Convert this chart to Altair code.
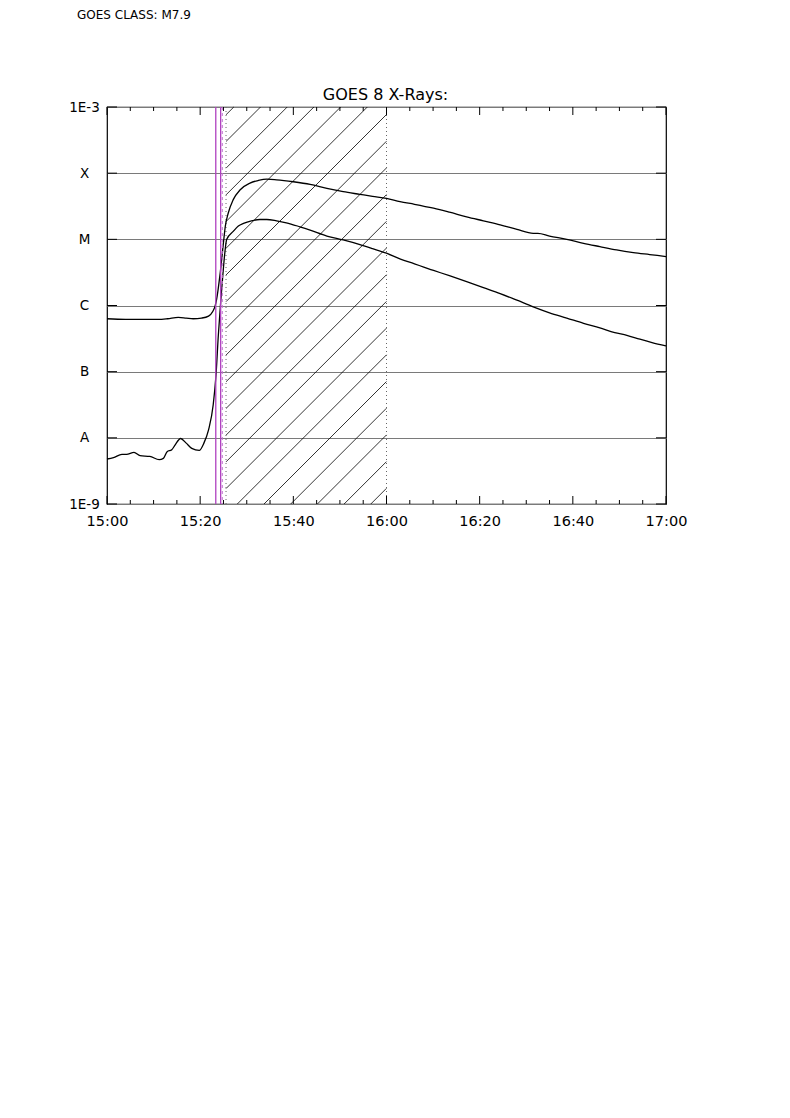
import altair as alt
import pandas as pd
import numpy as np

# ---------------- data (minutes after 15:00, log10 flux W/m^2) ----------------
long_t = [0, 4, 8, 11, 13, 15.3, 17, 18.5, 20.3, 21.8, 22.7, 23.2, 23.5, 24.3, 25.0, 25.4,
          26.0, 27.1, 28.6, 30.7, 32.5, 34.3, 36.4, 40, 43.6, 47.2, 50.7, 54.3, 57, 60,
          62.9, 66, 70.1, 73.5, 77.2, 80.8, 84.4, 88, 91.5, 92.5, 95, 98.7, 102.3, 105.8,
          109.4, 113, 116.5, 120]
long_log = [-6.20, -6.21, -6.21, -6.21, -6.20, -6.18, -6.19, -6.20, -6.19, -6.16, -6.09, -6.01,
            -5.92, -5.51, -5.05, -4.80, -4.61, -4.40, -4.25, -4.15, -4.11, -4.09, -4.10, -4.13,
            -4.17, -4.23, -4.28, -4.32, -4.35, -4.38, -4.43, -4.47, -4.53, -4.59, -4.66, -4.72,
            -4.78, -4.85, -4.91, -4.91, -4.95, -5.00, -5.06, -5.11, -5.16, -5.20, -5.23, -5.26]

short_t = [0, 1.4, 3.2, 4.2, 5.8, 7.1, 9.2, 11.2, 12.1, 12.9, 13.9, 14.6, 15.8, 17, 18.2,
           19.8, 20.8, 21.8, 22.8, 23.4, 23.9, 24.4, 24.8, 25.3, 25.7, 27.1, 28.2, 29.3, 31,
           32.8, 34.3, 36.4, 38.5, 41.4, 43.6, 47.2, 50.7, 54.3, 57, 60, 63, 66, 68, 70.1,
           73.5, 77.2, 80.8, 84.4, 88, 91.5, 95, 98.7, 102.3, 105.8, 109, 111.6, 114.4, 117, 120]
short_log = [-8.32, -8.30, -8.25, -8.25, -8.22, -8.27, -8.28, -8.33, -8.31, -8.21, -8.18, -8.11,
             -8.01, -8.08, -8.16, -8.19, -8.08, -7.88, -7.50, -7.05, -6.45, -5.95, -5.60, -5.20,
             -5.00, -4.88, -4.80, -4.76, -4.72, -4.70, -4.70, -4.72, -4.75, -4.81, -4.86, -4.95,
             -5.01, -5.08, -5.14, -5.21, -5.30, -5.37, -5.42, -5.47, -5.55, -5.64, -5.73, -5.82,
             -5.92, -6.02, -6.11, -6.19, -6.27, -6.34, -6.41, -6.45, -6.51, -6.56, -6.61]

x_tick_values = [0, 20, 40, 60, 80, 100, 120]
x_tick_labels = ["15:00", "15:20", "15:40", "16:00", "16:20", "16:40", "17:00"]
y_tick_exps = [-9, -8, -7, -6, -5, -4, -3]
y_tick_labels = ["1E-9", "A", "B", "C", "M", "X", "1E-3"]

magenta_lines = [23.35, 24.4]
dashed_line = [24.75]
hatch_start, hatch_end = 25.55, 60.0

title_text = "GOES 8 X-Rays:"
class_text = "GOES CLASS: M7.9"

# ---------------- layout ----------------
W, H = 559, 397
XMIN, XMAX = 0, 120
YMIN, YMAX = 1e-9, 1e-3
FONT = "DejaVu Sans"

xs = alt.Scale(domain=[XMIN, XMAX], nice=False, zero=False)
ys = alt.Scale(type="log", domain=[YMIN, YMAX], nice=False)

curves = pd.concat([
    pd.DataFrame({"t": long_t, "flux": [10 ** v for v in long_log], "ch": "long"}),
    pd.DataFrame({"t": short_t, "flux": [10 ** v for v in short_log], "ch": "short"}),
])

label_expr_x = str(x_tick_labels) + "[round(datum.value/20)]"
label_expr_y = str(y_tick_labels) + "[round(log(datum.value)/LN10)+9]"

base = alt.Chart(curves)

lines = base.mark_line(color="black", strokeWidth=1.3, interpolate="monotone").encode(
    x=alt.X("t:Q", scale=xs, axis=alt.Axis(values=x_tick_values, labelExpr=label_expr_x,
                                           title=None, grid=False, ticks=False, domain=False,
                                           labelFont=FONT, labelFontSize=14.5, labelPadding=10,
                                           labelFlush=False, labelOverlap=False,
                                           labelColor="black")),
    y=alt.Y("flux:Q", scale=ys, axis=alt.Axis(values=[10.0 ** e for e in y_tick_exps],
                                              labelExpr=label_expr_y, title=None, grid=True,
                                              gridColor="#7a7a7a", gridWidth=1, ticks=False,
                                              domain=False, labelFont=FONT, labelFontSize=13.5,
                                              labelAlign="center", labelPadding=23,
                                              labelFlush=False, labelOverlap=False,
                                              labelColor="black", labelBaseline="middle")),
    detail="ch:N",
)

# hatch pattern segments for the shaded interval (45 degrees in screen space)
px_min = W / (XMAX - XMIN)
px_dec = H / 6.0
u0, u1 = (hatch_start - XMIN) * px_min, (hatch_end - XMIN) * px_min
spacing, k0 = 26.7, 23.5
rows = []
n_lo = int(np.floor((u0 - H - k0) / spacing)) - 1
n_hi = int(np.ceil((u1 - k0) / spacing)) + 1
for n in range(n_lo, n_hi + 1):
    k = k0 + n * spacing
    a = max(u0, k)
    b = min(u1, k + H)
    if b - a > 0.5:
        rows.append({"t1": a / px_min, "t2": b / px_min,
                     "f1": 10 ** (-9 + (a - k) / px_dec), "f2": 10 ** (-9 + (b - k) / px_dec)})
hatch = alt.Chart(pd.DataFrame(rows)).mark_rule(color="black", strokeWidth=0.8).encode(
    x=alt.X("t1:Q", scale=xs), x2="t2:Q",
    y=alt.Y("f1:Q", scale=ys), y2="f2:Q")

edges = alt.Chart(pd.DataFrame({"t": [hatch_start, hatch_end]})).mark_rule(
    color="#666666", strokeWidth=1, strokeDash=[1, 3]).encode(
    x=alt.X("t:Q", scale=xs), y=alt.value(0), y2=alt.value(H))

mag = alt.Chart(pd.DataFrame({"t": magenta_lines})).mark_rule(
    color="#b040c0", strokeWidth=1.3).encode(
    x=alt.X("t:Q", scale=xs), y=alt.value(0), y2=alt.value(H))

dash = alt.Chart(pd.DataFrame({"t": dashed_line})).mark_rule(
    color="#c070d0", strokeWidth=1, strokeDash=[3, 3]).encode(
    x=alt.X("t:Q", scale=xs), y=alt.value(0), y2=alt.value(H))

# tick marks (inward) on bottom / top, major every 20 min, minor every 5 min
tick_t = list(range(0, 121, 5))
major = pd.DataFrame({"t": [v for v in tick_t if v % 20 == 0]})
minor = pd.DataFrame({"t": [v for v in tick_t if v % 20 != 0]})
tick_layers = []
for df, ln in ((major, 8), (minor, 4)):
    tick_layers.append(alt.Chart(df).mark_rule(color="black").encode(
        x=alt.X("t:Q", scale=xs), y=alt.value(H - ln), y2=alt.value(H)))
    tick_layers.append(alt.Chart(df).mark_rule(color="black").encode(
        x=alt.X("t:Q", scale=xs), y=alt.value(0), y2=alt.value(ln)))

ytick_df = pd.DataFrame({"f": [10.0 ** e for e in y_tick_exps]})
tick_layers.append(alt.Chart(ytick_df).mark_rule(color="black").encode(
    y=alt.Y("f:Q", scale=ys), x=alt.value(0), x2=alt.value(10)))
tick_layers.append(alt.Chart(ytick_df).mark_rule(color="black").encode(
    y=alt.Y("f:Q", scale=ys), x=alt.value(W - 10), x2=alt.value(W)))

title = alt.Chart(pd.DataFrame({"s": [title_text]})).mark_text(
    font=FONT, fontSize=16, color="black", align="center", baseline="alphabetic").encode(
    text="s:N", x=alt.value(W / 2 - 1), y=alt.value(-7))

cls = alt.Chart(pd.DataFrame({"s": [class_text]})).mark_text(
    font=FONT, fontSize=12, color="black", align="left", baseline="alphabetic").encode(
    text="s:N", x=alt.value(77 - 107), y=alt.value(18.5 - 107))

chart = alt.layer(hatch, edges, lines, mag, dash, *tick_layers, title, cls).properties(
    width=W, height=H,
    autosize=alt.AutoSizeParams(type="none"),
    padding={"left": 99, "top": 99, "right": 116, "bottom": 60},
    background="white",
).configure_view(stroke="black", strokeWidth=1.2)

chart.save("out.html", embed_options={"renderer": "svg", "actions": False})
